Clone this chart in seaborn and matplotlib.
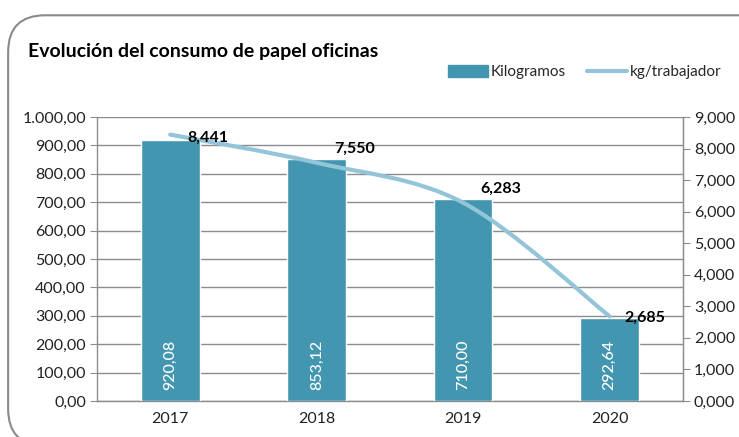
import matplotlib
matplotlib.use("Agg")
import matplotlib.pyplot as plt
import seaborn as sns
import pandas as pd
from matplotlib.path import Path
from matplotlib.patches import PathPatch, FancyBboxPatch
from matplotlib.lines import Line2D
from matplotlib.ticker import FuncFormatter, FixedLocator

anios = ["2017", "2018", "2019", "2020"]
kilogramos = [920.08, 853.12, 710.00, 292.64]
kg_trabajador = [8.441, 7.550, 6.283, 2.685]
# decalage des etiquettes de la ligne (points)
label_offsets = [(27, -2), (27, 10), (27, 10), (25, -1)]

color_bar = "#4396B0"
color_line = "#93C4D8"
color_grid = "#8C8C8C"

sns.set_style("white")
plt.rcParams["font.family"] = ["Lato", "DejaVu Sans"]

df = pd.DataFrame({"anio": anios, "kg": kilogramos, "kgt": kg_trabajador})

fig = plt.figure(figsize=(7.39, 4.37), dpi=100)
ax = fig.add_axes([0.1313, 0.0824, 0.7927, 0.6499])

# cadre arrondi
frame = FancyBboxPatch((0.011, -0.02), 1.2, 0.985, boxstyle="round,pad=0,rounding_size=0.05",
                       transform=fig.transFigure, facecolor="none", edgecolor="#8A8A8A",
                       linewidth=1.5, mutation_aspect=739/437)
fig.patches.append(frame)

sns.barplot(data=df, x="anio", y="kg", color=color_bar, width=0.4, ax=ax,
            saturation=1, zorder=3)
ax.set_ylim(0, 1000)
ax.set_xlim(-0.5, 3.5)
ax.yaxis.set_major_locator(FixedLocator(range(0, 1001, 100)))

def fmt_left(v, pos):
    s = f"{v:,.2f}"
    return s.replace(",", "X").replace(".", ",").replace("X", ".")
ax.yaxis.set_major_formatter(FuncFormatter(fmt_left))
ax.grid(axis="y", color=color_grid, linewidth=1, zorder=0)
ax.set_axisbelow(True)
ax.set_xlabel("")
ax.set_ylabel("")
ax.spines["top"].set_visible(False)
for s in ["left", "bottom", "right"]:
    ax.spines[s].set_color(color_grid)
    ax.spines[s].set_linewidth(1)
ax.tick_params(axis="y", direction="out", length=5, color=color_grid, labelsize=11.5,
               labelcolor="#222222", left=True, pad=3)
ax.set_xticks([0, 1, 2, 3])
ax.set_xticklabels(anios)
ax.tick_params(axis="x", length=0, labelsize=11.5, labelcolor="#222222", pad=8)
ax.set_xticks([0.5, 1.5, 2.5], minor=True)
ax.tick_params(axis="x", which="minor", direction="out", length=5, color=color_grid)

for i, v in enumerate(kilogramos):
    ax.annotate(f"{v:.2f}".replace(".", ","), (i, 0), xytext=(0, 8), textcoords="offset points",
                rotation=90, ha="center", va="bottom", color="white", fontsize=11.5,
                fontweight="medium", zorder=5)

ax2 = ax.twinx()
ax2.set_ylim(0, 9)
ax2.set_xlim(-0.5, 3.5)
ax2.yaxis.set_major_locator(FixedLocator(range(0, 10)))
ax2.yaxis.set_major_formatter(FuncFormatter(lambda v, p: f"{v:.3f}".replace(".", ",")))
ax2.tick_params(axis="y", direction="out", length=5, color=color_grid, labelsize=11.5,
                labelcolor="#222222", right=True, pad=3)
for s in ["top", "left", "bottom"]:
    ax2.spines[s].set_visible(False)
ax2.spines["right"].set_color(color_grid)

# ligne lissee (type Excel) a partir des points
xs = list(range(len(kg_trabajador)))
pts = list(zip(xs, kg_trabajador))
verts = [pts[0]]
codes = [Path.MOVETO]
n = len(pts)
for i in range(n - 1):
    p0 = pts[i - 1] if i > 0 else pts[i]
    p1 = pts[i]
    p2 = pts[i + 1]
    p3 = pts[i + 2] if i + 2 < n else pts[i + 1]
    c1 = (p1[0] + (p2[0] - p0[0]) / 6, p1[1] + (p2[1] - p0[1]) / 6)
    c2 = (p2[0] - (p3[0] - p1[0]) / 6, p2[1] - (p3[1] - p1[1]) / 6)
    verts += [c1, c2, p2]
    codes += [Path.CURVE4] * 3
ax2.add_patch(PathPatch(Path(verts, codes), facecolor="none", edgecolor=color_line,
                        linewidth=3, capstyle="round", zorder=4))

for i, v in enumerate(kg_trabajador):
    ax2.annotate(f"{v:.3f}".replace(".", ","), (i, v), xytext=label_offsets[i],
                 textcoords="offset points", ha="center", va="center",
                 fontsize=11.5, fontweight="bold", color="black", zorder=6)

fig.text(0.038, 0.883, "Evolución del consumo de papel oficinas", fontsize=14,
         fontweight="bold", color="black", ha="left", va="center")

handles = [plt.Rectangle((0, 0), 1, 1, color=color_bar),
           Line2D([0], [0], color=color_line, linewidth=3)]
fig.legend(handles, ["Kilogramos", "kg/trabajador"], loc="center right",
           bbox_to_anchor=(0.995, 0.835), ncol=2, frameon=False, fontsize=11,
           handlelength=2.6, handleheight=0.8, handletextpad=0.2, columnspacing=1.4)

fig.savefig("out.png", dpi=100)
